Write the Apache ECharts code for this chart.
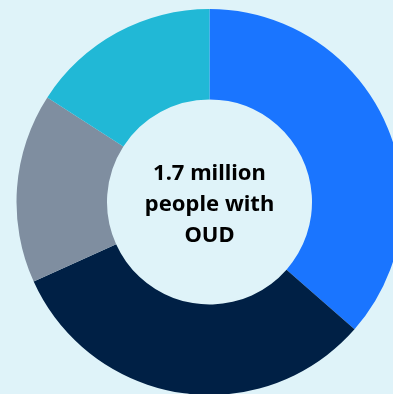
<!DOCTYPE html>
<html>
<head>
<meta charset="utf-8">
<script src="https://cdn.jsdelivr.net/npm/echarts@6/dist/echarts.min.js"></script>
<style>
html,body{margin:0;padding:0;background:#dff3f9;}
#chart{width:393px;height:394px;}
</style>
</head>
<body>
<div id="chart"></div>
<script>
const categories = ['Segment A', 'Segment B', 'Segment C', 'Segment D'];
const values = [0.62, 0.54, 0.27, 0.27]; // millions
const colors = ['#1a75ff', '#002045', '#7f8ea0', '#21b8d6'];
const centerText = '1.7 million\npeople with\nOUD';

const chart = echarts.init(document.getElementById('chart'));
chart.setOption({
  backgroundColor: '#dff3f9',
  animation: false,
  series: [{
    type: 'pie',
    center: [209.5, 202],
    radius: [102.5, 193],
    startAngle: 90,
    clockwise: true,
    silent: true,
    label: { show: false },
    labelLine: { show: false },
    itemStyle: { borderWidth: 0 },
    data: categories.map((c, i) => ({ name: c, value: values[i], itemStyle: { color: colors[i] } }))
  }],
  graphic: [{
    type: 'text',
    x: 209.5,
    y: 205,
    style: {
      text: centerText,
      fill: '#000000',
      font: 'bold 22px "Noto Sans", sans-serif',
      lineHeight: 31,
      align: 'center',
      verticalAlign: 'middle'
    }
  }]
});
</script>
</body>
</html>
